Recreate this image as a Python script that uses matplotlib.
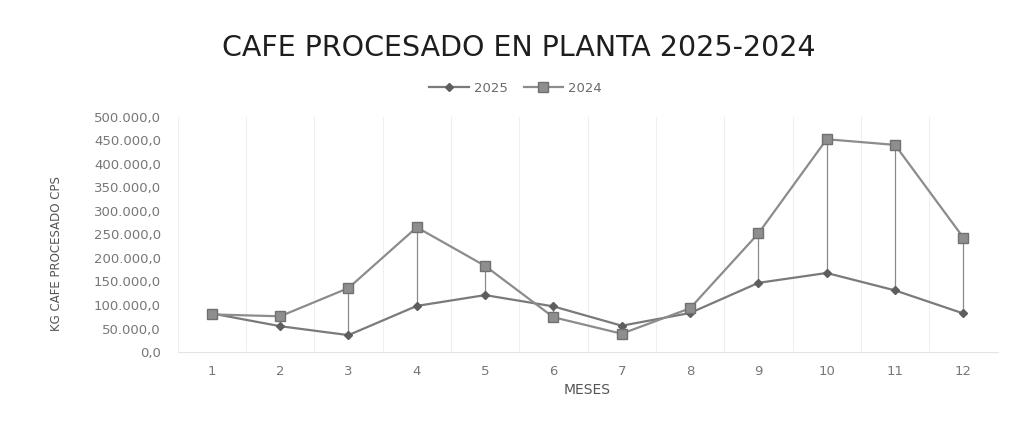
import matplotlib
matplotlib.use("Agg")
import matplotlib.pyplot as plt
from matplotlib.ticker import FuncFormatter, MultipleLocator

months = list(range(1, 13))
month_labels = [str(m) for m in months]
v2025 = [82000, 55000, 36000, 98000, 121000, 97000, 56000, 83000, 147000, 168000, 131000, 82000]
v2024 = [80000, 76000, 136000, 265000, 183000, 74000, 39000, 93000, 252000, 452000, 440000, 243000]

fig = plt.figure(figsize=(10.21, 4.32), dpi=100)
fig.patch.set_facecolor("white")
ax = fig.add_axes([0.174, 0.185, 0.803, 0.545])

# high-low lines
ax.vlines(months, [min(a, b) for a, b in zip(v2025, v2024)],
          [max(a, b) for a, b in zip(v2025, v2024)], colors="#8a8a8a", lw=0.9, zorder=2)

ax.plot(months, v2025, color="#7a7a7a", lw=1.6, marker="D", ms=4.5,
        mfc="#5e5e5e", mec="#5e5e5e", label="2025", zorder=3)
ax.plot(months, v2024, color="#8c8c8c", lw=1.6, marker="s", ms=7,
        mfc="#8e8e8e", mec="#707070", label="2024", zorder=4)

ax.set_xlim(0.5, 12.5)
ax.set_ylim(0, 500000)
ax.yaxis.set_major_locator(MultipleLocator(50000))
ax.yaxis.set_major_formatter(FuncFormatter(lambda v, p: f"{int(v):,}".replace(",", ".") + ",0"))
ax.set_xticks(months)
ax.set_xticklabels(month_labels)
ax.set_xticks([m + 0.5 for m in range(0, 13)], minor=True)
ax.grid(False)
ax.grid(True, which="minor", axis="x", color="#efefef", lw=0.8)
ax.tick_params(axis="both", which="both", length=0, colors="#777777", labelsize=9.5)
ax.tick_params(axis="x", pad=9, labelsize=9.5)
ax.tick_params(axis="y", pad=12)
for s in ax.spines.values():
    s.set_visible(False)
ax.spines["bottom"].set_visible(True)
ax.spines["bottom"].set_color("#e4e4e4")

ax.set_xlabel("MESES", color="#555555", fontsize=10, labelpad=4)
ax.set_ylabel("KG CAFE PROCESADO CPS", color="#555555", fontsize=8.5)
ax.yaxis.set_label_coords(-0.14, 0.42)

fig.text(0.508, 0.888, "CAFE PROCESADO EN PLANTA 2025-2024", ha="center", va="center",
         fontsize=20.5, color="#1e1e1e", fontfamily="DejaVu Sans")

leg = fig.legend(loc="center", bbox_to_anchor=(0.505, 0.795), ncol=2, frameon=False,
                 fontsize=9.5, labelcolor="#6a6a6a", handlelength=3, columnspacing=1.2,
                 handletextpad=0.4)

fig.savefig("out.png", dpi=100, facecolor="white")
